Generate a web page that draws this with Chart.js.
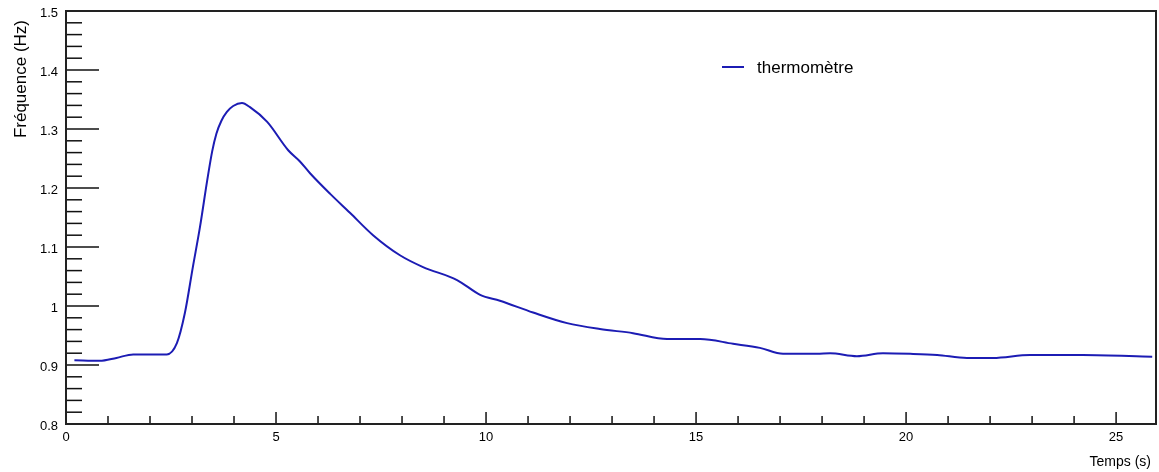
<!DOCTYPE html>
<html>
<head>
<meta charset="utf-8">
<script src="https://cdn.jsdelivr.net/npm/chart.js@4"></script>
<style>
  body { margin: 0; background: #fff; }
  canvas { display: block; }
</style>
</head>
<body>
<canvas id="freqChart" width="1159" height="472"></canvas>
<script>
// temps (s) et fréquence (Hz)
const temps = [0.2, 0.8, 1.2, 1.6, 2.0, 2.4, 2.64, 2.83, 3.02, 3.19, 3.36, 3.48, 3.58, 3.7, 3.83, 3.98, 4.19, 4.38, 4.79, 5.29, 5.57, 5.81, 6.29, 6.76, 7.31, 7.95, 8.5, 9.31, 9.86, 10.33, 11.12, 11.93, 12.71, 13.5, 14.31, 15.1, 15.88, 16.52, 17.07, 17.88, 18.19, 18.83, 19.45, 20.1, 20.74, 21.45, 22.07, 22.95, 24.21, 25.86];
const frequence = [0.908, 0.907, 0.912, 0.918, 0.918, 0.918, 0.937, 0.988, 1.066, 1.134, 1.212, 1.262, 1.292, 1.314, 1.329, 1.339, 1.344, 1.337, 1.312, 1.264, 1.245, 1.225, 1.19, 1.158, 1.12, 1.086, 1.066, 1.044, 1.019, 1.009, 0.989, 0.971, 0.961, 0.954, 0.944, 0.944, 0.936, 0.929, 0.919, 0.919, 0.920, 0.915, 0.920, 0.919, 0.917, 0.912, 0.912, 0.917, 0.917, 0.914];
const serieLabel = 'thermomètre';
const xTitle = 'Temps (s)';
const yTitle = 'Fréquence (Hz)';

const points = temps.map((t, i) => ({ x: t, y: frequence[i] }));

// cadre + graduations à l'intérieur, façon ROOT
const rootStyle = {
    id: 'rootStyle',
    afterDatasetsDraw(chart) {
        const { ctx, chartArea: a, scales } = chart;
        ctx.save();
        ctx.strokeStyle = '#111';
        ctx.lineWidth = 1.5;
        // y : mineures tous les 0.02, majeures tous les 0.1
        for (let k = 0; k <= 35; k++) {
            const v = 0.8 + k * 0.02;
            const py = scales.y.getPixelForValue(v);
            const len = (k % 5 === 0) ? 33 : 16;
            ctx.beginPath();
            ctx.moveTo(a.left, py);
            ctx.lineTo(a.left + len, py);
            ctx.stroke();
        }
        // x : mineures tous les 1, majeures tous les 5
        for (let k = 0; k <= 25; k++) {
            const px = scales.x.getPixelForValue(k);
            const len = (k % 5 === 0) ? 12 : 8;
            ctx.beginPath();
            ctx.moveTo(px, a.bottom);
            ctx.lineTo(px, a.bottom - len);
            ctx.stroke();
        }
        ctx.lineWidth = 2;
        ctx.strokeStyle = '#222';
        ctx.strokeRect(a.left, a.top, a.right - a.left, a.bottom - a.top);
        ctx.restore();
    },
    afterDraw(chart) {
        const { ctx } = chart;
        ctx.save();
        ctx.fillStyle = '#000';
        ctx.font = '14px "Liberation Sans", Arial, sans-serif';
        // titre axe x
        ctx.textAlign = 'right';
        ctx.textBaseline = 'middle';
        ctx.fillText(xTitle, 1151, 462);
        // titre axe y
        ctx.font = '17px "Liberation Sans", Arial, sans-serif';
        ctx.translate(21, 20);
        ctx.rotate(-Math.PI / 2);
        ctx.textAlign = 'right';
        ctx.fillText(yTitle, 0, 0);
        ctx.restore();

        // légende
        ctx.save();
        ctx.strokeStyle = chart.data.datasets[0].borderColor;
        ctx.lineWidth = 2;
        ctx.beginPath();
        ctx.moveTo(722, 67);
        ctx.lineTo(744, 67);
        ctx.stroke();
        ctx.fillStyle = '#000';
        ctx.font = '17px "Liberation Sans", Arial, sans-serif';
        ctx.textBaseline = 'middle';
        ctx.fillText(chart.data.datasets[0].label, 757, 68);
        ctx.restore();
    }
};

const ctx = document.getElementById('freqChart').getContext('2d');

let freqChart = new Chart(ctx, {
    type: 'line',
    data: {
        datasets: [{
            label: serieLabel,
            data: points,
            borderColor: '#1c1cb4',
            borderWidth: 2,
            pointRadius: 0,
            cubicInterpolationMode: 'monotone',
            fill: false
        }]
    },
    options: {
        responsive: false,
        animation: false,
        layout: { padding: { top: 11, right: 3, left: 0, bottom: 0 } },
        plugins: {
            legend: { display: false },
            tooltip: { enabled: false }
        },
        scales: {
            x: {
                type: 'linear',
                min: 0,
                max: 25.95,
                grid: { display: false, drawTicks: false },
                border: { display: false },
                afterFit: s => { s.height = 48; s.paddingLeft = 0; s.paddingRight = 0; },
                ticks: {
                    stepSize: 5,
                    includeBounds: false,
                    padding: 6,
                    color: '#000',
                    font: { family: '"Liberation Sans", Arial, sans-serif', size: 13 },
                    maxRotation: 0
                }
            },
            y: {
                min: 0.8,
                max: 1.5,
                grid: { display: false, drawTicks: false },
                border: { display: false },
                afterFit: s => { s.width = 66; s.paddingTop = 0; s.paddingBottom = 0; },
                ticks: {
                    stepSize: 0.1,
                    padding: 8,
                    labelOffset: 2,
                    color: '#000',
                    font: { family: '"Liberation Sans", Arial, sans-serif', size: 13 },
                    callback: v => String(Number(v.toFixed(1)))
                }
            }
        }
    },
    plugins: [rootStyle]
});
</script>
</body>
</html>
